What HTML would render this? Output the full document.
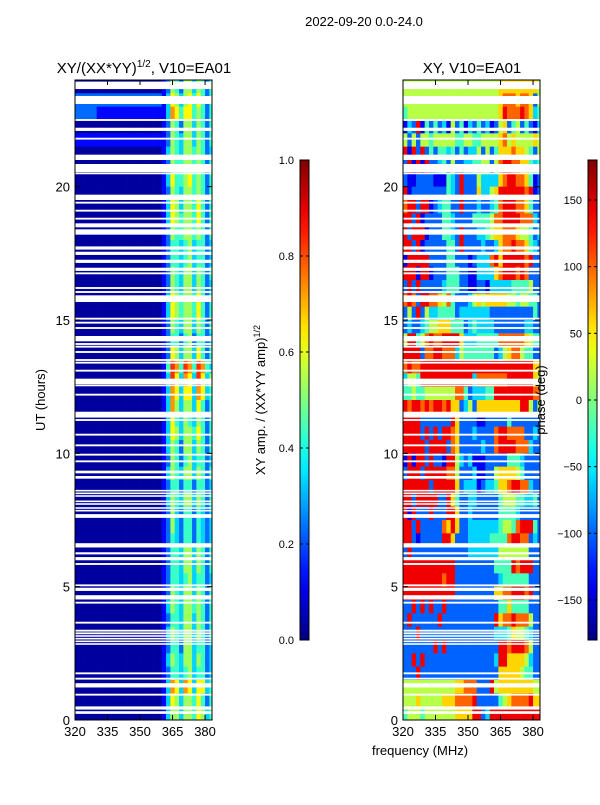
<!DOCTYPE html>
<html><head><meta charset="utf-8"><style>
body{margin:0;background:#fff;width:600px;height:800px;overflow:hidden;font-family:"Liberation Sans",sans-serif}
svg text{font-family:"Liberation Sans",sans-serif;fill:#000}
</style></head><body>
<svg id="fig" width="600" height="800" xmlns="http://www.w3.org/2000/svg">
<text x="364" y="26" font-size="13" text-anchor="middle">2022-09-20 0.0-24.0</text>
<text x="144" y="73" font-size="15" text-anchor="middle">XY/(XX*YY)<tspan font-size="10" dy="-6">1/2</tspan><tspan dy="6">, V10=EA01</tspan></text>
<text x="472" y="73" font-size="15" text-anchor="middle">XY, V10=EA01</text>
<text x="420" y="755" font-size="13" text-anchor="middle">frequency (MHz)</text>
<text transform="translate(45,400) rotate(-90)" font-size="13" text-anchor="middle">UT (hours)</text>
<text transform="translate(265,400) rotate(-90)" font-size="13" text-anchor="middle">XY amp. / (XX*YY amp)<tspan font-size="9" dy="-5">1/2</tspan></text>
<g id="left"></g>
<g id="right"></g>
<g id="cbars"></g>
<text transform="translate(545,400) rotate(-90)" font-size="13" text-anchor="middle">phase (deg)</text>
</svg>
<script>
const freqRange = [320, 383.2];
const utRange = [0, 24];
const xTicks = [320, 335, 350, 365, 380];
const yTicks = [0, 5, 10, 15, 20];
const ampTicks = [0.0, 0.2, 0.4, 0.6, 0.8, 1.0];
const phaseTicks = [-150, -100, -50, 0, 50, 100, 150];
// gaps: [center hour, thickness hours]
const gaps = [[23.8,0.28],[23.25,0.3],[22.5,0.07],[22.15,0.12],[21.8,0.07],[21.1,0.2],[20.7,0.3],[20.5,0.07],[19.6,0.2],[19.4,0.07],[19.1,0.07],[18.8,0.07],[18.55,0.15],[18.3,0.2],[17.7,0.12],[17.5,0.12],[17.2,0.12],[16.9,0.12],[16.75,0.07],[16.2,0.07],[16.05,0.07],[15.8,0.25],[15.05,0.07],[14.9,0.07],[14.7,0.07],[14.3,0.2],[14.1,0.07],[14.0,0.07],[13.8,0.07],[13.5,0.07],[13.4,0.07],[13.1,0.07],[12.7,0.2],[12.55,0.07],[12.2,0.07],[11.45,0.22],[11.25,0.07],[10.7,0.07],[10.3,0.07],[9.95,0.07],[9.7,0.07],[9.3,0.1],[9.1,0.1],[8.6,0.06],[8.5,0.06],[8.4,0.06],[8.2,0.06],[8.1,0.06],[7.95,0.06],[7.85,0.06],[7.65,0.14],[6.55,0.16],[6.25,0.08],[6.05,0.12],[5.85,0.07],[5.05,0.07],[4.9,0.12],[4.6,0.16],[4.4,0.07],[3.65,0.07],[3.35,0.07],[3.25,0.07],[3.15,0.06],[3.05,0.06],[2.95,0.06],[2.85,0.06],[1.75,0.07],[1.55,0.07],[1.3,0.16],[0.95,0.07],[0.45,0.12],[0.28,0.1]];
// amplitude grid: 48 rows (24h -> 0h), 32 freq columns of 2 MHz; digit d -> d/10+0.03
const ampRows = [
"00000000000000000000125425535424","22222222222222222222136535646424","22222111111111111111137646645424","00000000000000000000125425535424",
"11111111111111111111125435535424","00000000000000000000135435545423","00000000000000000000125445545424","00000000000000000000136445645424",
"00000000000000000000125435545424","00000000000000000000136535546424","00000000000000000000136545546424","00000000000000000000125445545424",
"00000000000000000000124434534423","00000000000000000000124434534423","00000000000000000000125435535424","00000000000000000000125435535423",
"00000000000000000000136545546424","00000000000000000000136545546424","00000000000000000000125435535424","00000000000000000000124424524423",
"00000000000000000000126535536424","00000000000000000000148748748743","00000000000000000000138637638635","00000000000000000000137636637634",
"00000000000000000000137535536424","00000000000000000000136435435424","00000000000000000000136535546424","00000000000000000000135425535424",
"00000000000000000000125424534423","00000000000000000000135435535424","00000000000000000000124424424423","00000000000000000000135435535424",
"00000000000000000000125324424323","00000000000000000000125324424323","00000000000000000000124324424323","00000000000000000000124435535424",
"00000000000000000000124435535424","00000000000000000000124434534423","00000000000000000000125435535424","00000000000000000000135435545424",
"00000000000000000000124435535424","00000000000000000000135435535424","00000000000000000000124425534423","00000000000000000000135435535423",
"00000000000000000000124434534423","00000000000000000000137637636634","00000000000000000000136535546424","00000000000000000000135535546534"];
// phase grid: digit d -> -180 + d*40 deg
const phaseRows = [
"55555555555555555555556666666665","55555555555555555555556777677625","45555555555555555555556877787634","13281424231524132423125624524213",
"52525545555544554455556756555565","81828242443424233525246667665425","28181822342522334455257887766434","21122221114328222533336788776412",
"81222222224328222633568888887812","78828812344228222322347888776422","88281222244322224444577888877732","82888122244328222334566777655423",
"88281222224428222232236778776432","18888822224422212333786888887822","88818812224442211333367888787222","28282222234442211221333334444522",
"78728877657422235656666655455442","25282533444423333333222222222242","23223455666444234333322222223322","58845787788886333444447777776544",
"88882778877735444444423567754422","78778888888888888888888888888866","35548888888888883777777788888865","44544555555577423334488888888877",
"87887878878662352666666666688525","88882222222862222112222242222222","88882828288762223222278877772232","88888288882762222232278888777322",
"18188282218853231112222244432222","28882888887752223112256666542222","88888828888862333123346678877322","88288888228642233222224555443342",
"81822282228862232222224444322222","88282222276862233333334554788842","88212222288622233333444478877232","28222222222222233333335555555222",
"88888888888822222222244448788822","88888888878822222222223444444222","88888888888822222222266778887822","22828282282222222222224464444222",
"28222222822222222222286778777522","22282222222222222222233346554322","22222228282222222222228878887522","22828222222222222222238866665322",
"22282222222222222222226666654422","55555555555566777222856666666655","55565555566677778222224567777866","45554555555566668823888888888888"];

const NS="http://www.w3.org/2000/svg";
function jet(v){v=Math.max(0,Math.min(1,v));
 const f=x=>Math.round(255*Math.max(0,Math.min(1,1.5-Math.abs(4*v-x))));
 return `rgb(${f(3)},${f(2)},${f(1)})`;}
function mk(tag,attrs,parent){const e=document.createElementNS(NS,tag);for(const k in attrs)e.setAttribute(k,attrs[k]);parent.appendChild(e);return e;}
const T=80,B=720;
const yS=h=>B-(h-utRange[0])/(utRange[1]-utRange[0])*(B-T);
function panel(g,L,R,rows,valFn,name){
 const xS=f=>L+(f-freqRange[0])/(freqRange[1]-freqRange[0])*(R-L);
 rows.forEach((row,i)=>{
  const h1=24-i*0.5,h0=h1-0.5;
  for(let j=0;j<row.length;j++){
   const f0=320+j*2,f1=Math.min(f0+2,freqRange[1]);if(f0>=freqRange[1])continue;
   const r=mk('rect',{x:xS(f0),y:yS(h1),width:xS(f1)-xS(f0)+0.3,height:yS(h0)-yS(h1)+0.3,fill:jet(valFn(+row[j]))},g);
   
   
  }
 });
 gaps.forEach(gp=>{
  const r=mk('rect',{x:L,y:yS(gp[0]+gp[1]/2),width:R-L,height:yS(gp[0]-gp[1]/2)-yS(gp[0]+gp[1]/2),fill:'#fff'},g);
  
  
 });
 const fr=mk('rect',{x:L,y:T,width:R-L,height:B-T,fill:'none',stroke:'#000','stroke-width':1},g);
 
 
 xTicks.forEach(t=>{const x=xS(t);
  mk('line',{x1:x,x2:x,y1:B,y2:B-5,stroke:'#000'},g);mk('line',{x1:x,x2:x,y1:T,y2:T+5,stroke:'#000'},g);
  const tx=mk('text',{x:x,y:B+16,'font-size':13,'text-anchor':'middle'},g);tx.textContent=t;
  
  });
 yTicks.forEach(t=>{const y=yS(t);
  mk('line',{x1:L,x2:L+5,y1:y,y2:y,stroke:'#000'},g);mk('line',{x1:R,x2:R-5,y1:y,y2:y,stroke:'#000'},g);
  const tx=mk('text',{x:L-5,y:y+5,'font-size':13,'text-anchor':'end'},g);tx.textContent=t;
  
  });
}
panel(document.getElementById('left'),75,212,ampRows,d=>d/10+0.03,'amp');
panel(document.getElementById('right'),403,540,phaseRows,d=>(d*40)/360,'phase');
function cbar(x,ticks,lo,hi,name,fmt){
 const g=document.getElementById('cbars');
 const gid='grad'+name;
 const defs=mk('defs',{},g);const lg=mk('linearGradient',{id:gid,x1:0,y1:1,x2:0,y2:0},defs);
 for(let i=0;i<=20;i++)mk('stop',{offset:i/20,'stop-color':jet(i/20)},lg);
 const r=mk('rect',{x:x,y:160,width:9,height:480,fill:`url(#${gid})`,stroke:'#000','stroke-width':1},g);
 
 
 ticks.forEach(t=>{const y=640-(t-lo)/(hi-lo)*480;
  mk('line',{x1:x,x2:x+3,y1:y,y2:y,stroke:'#000'},g);mk('line',{x1:x+9,x2:x+6,y1:y,y2:y,stroke:'#000'},g);
  const tx=mk('text',{x:x-6,y:y+4,'font-size':11,'text-anchor':'end'},g);tx.textContent=fmt(t);
  
  });
}
cbar(300,ampTicks,0,1,'amp',t=>t.toFixed(1));
cbar(588,phaseTicks,-180,180,'phase',t=>t<0?'\u2212'+(-t):''+t);
</script>
</body></html>
